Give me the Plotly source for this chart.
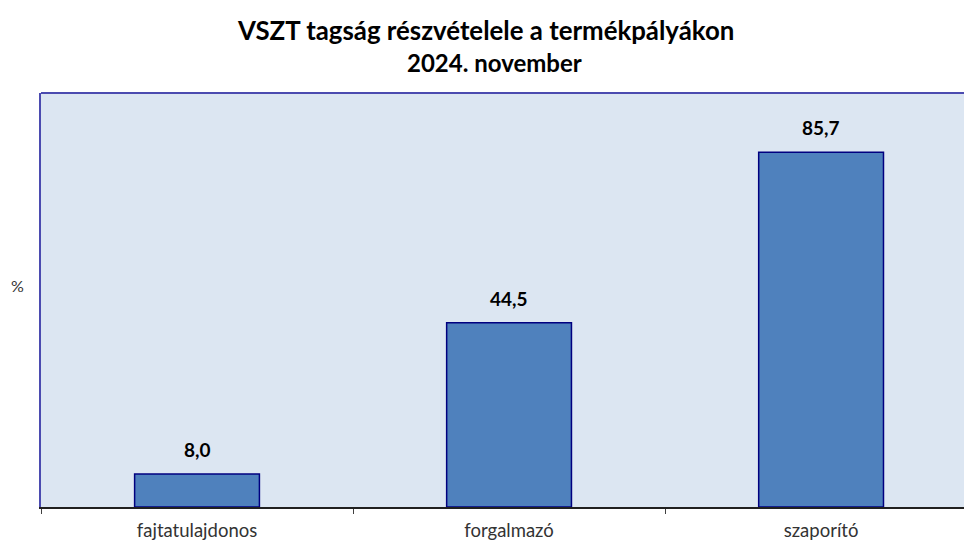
import plotly.graph_objects as go

categories = ["fajtatulajdonos", "forgalmazó", "szaporító"]
values = [8.0, 44.5, 85.7]
value_labels = ["8,0", "44,5", "85,7"]
title_lines = ["VSZT tagság részvételele a termékpályákon", "2024. november"]

FONT = "Lato, Carlito, Calibri, sans-serif"

fig = go.Figure()
fig.add_trace(go.Bar(
    x=categories, y=values, width=0.4,
    marker=dict(color="#4F81BD", line=dict(color="#000080", width=1.5)),
    hoverinfo="x+y",
))

# data labels above bars
for c, v, lab in zip(categories, values, value_labels):
    fig.add_annotation(x=c, y=v, text=f"<b>{lab}</b>", showarrow=False,
                       yanchor="bottom", yshift=11,
                       font=dict(family=FONT, size=19, color="#000000"))

fig.update_layout(
    width=964, height=541,
    paper_bgcolor="white", plot_bgcolor="#DCE6F2",
    margin=dict(l=41, r=0, t=93, b=34),
    showlegend=False,
)
fig.add_annotation(text=f"<b>{title_lines[0]}</b>", xref="paper", yref="paper",
                   x=(485 - 41) / 923, y=1 + (93 - 30) / 414, showarrow=False,
                   xanchor="center", yanchor="middle",
                   font=dict(family=FONT, size=25.8, color="#000000"))
fig.add_annotation(text=f"<b>{title_lines[1]}</b>", xref="paper", yref="paper",
                   x=(494 - 41) / 923, y=1 + (93 - 62) / 414, showarrow=False,
                   xanchor="center", yanchor="middle",
                   font=dict(family=FONT, size=24, color="#000000"))

fig.update_xaxes(
    range=[-0.5, 2.458], tickson="boundaries", ticks="outside", ticklen=5,
    tickcolor="#404040", showline=True, linecolor="#202020", linewidth=1.5,
    showgrid=False, tickfont=dict(family=FONT, size=18.5, color="#333333"),
    ticklabelstandoff=6,
)
fig.update_yaxes(
    range=[0, 100], showticklabels=False, showgrid=False, zeroline=False,
    showline=True, linecolor="#4B4BB0", linewidth=2, ticks="",
)
fig.add_shape(type="line", xref="paper", yref="paper", x0=0, x1=1, y0=1, y1=1,
              line=dict(color="#4B4BB0", width=2))
fig.add_annotation(text="%", xref="paper", yref="paper", x=-0.026, y=0.536,
                   showarrow=False, font=dict(family=FONT, size=16, color="#333333"),
                   xanchor="center", yanchor="middle")

fig.write_html("out.html", config={"displayModeBar": False},
               post_script="document.body.style.margin='0';document.body.style.overflow='hidden';")
